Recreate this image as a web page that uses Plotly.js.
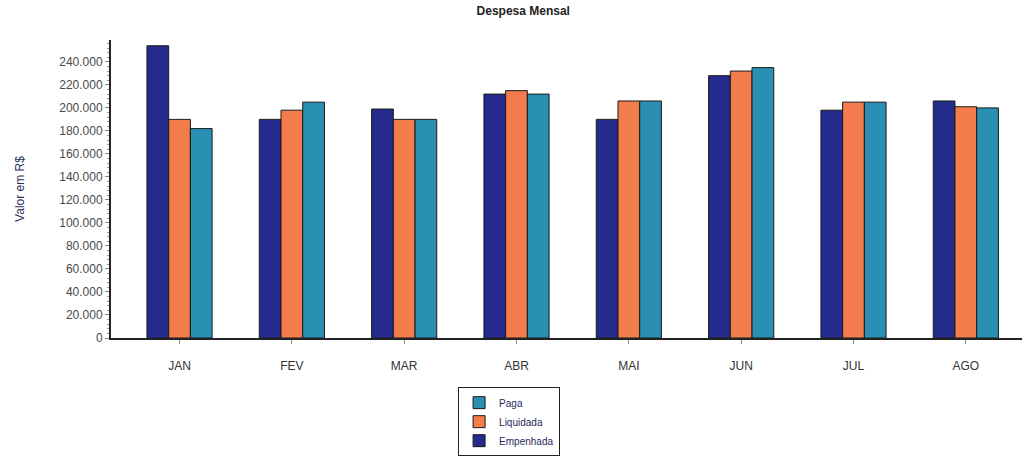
<!DOCTYPE html>
<html>
<head>
<meta charset="utf-8">
<script src="https://cdn.plot.ly/plotly-3.0.1.min.js"></script>
<style>html,body{margin:0;padding:0;background:#fff;}#chart{width:1024px;height:458px;}</style>
</head>
<body>
<div id="chart"></div>
<script>
var months = ["JAN", "FEV", "MAR", "ABR", "MAI", "JUN", "JUL", "AGO"];
var empenhada = [254000, 190000, 199000, 212000, 190000, 228000, 198000, 206000];
var liquidada = [190000, 198000, 190000, 215000, 206000, 232000, 205000, 201000];
var paga = [182000, 205000, 190000, 212000, 206000, 235000, 205000, 200000];
var yTicks = [0, 20000, 40000, 60000, 80000, 100000, 120000, 140000, 160000, 180000, 200000, 220000, 240000];
var yTickText = ["0", "20.000", "40.000", "60.000", "80.000", "100.000", "120.000", "140.000", "160.000", "180.000", "200.000", "220.000", "240.000"];

var lineStyle = {color: "#1a1a1a", width: 1};
var traces = [
  {type: "bar", name: "Empenhada", x: months, y: empenhada,
   marker: {color: "#252b8c", line: lineStyle}},
  {type: "bar", name: "Liquidada", x: months, y: liquidada,
   marker: {color: "#f27c4c", line: lineStyle}},
  {type: "bar", name: "Paga", x: months, y: paga,
   marker: {color: "#2990b4", line: lineStyle}}
];

var layout = {
  width: 1024, height: 458,
  paper_bgcolor: "#ffffff", plot_bgcolor: "#ffffff",
  margin: {l: 111, r: 2, t: 40, b: 109},
  font: {family: "Liberation Sans, Arial, sans-serif", size: 12, color: "#444"},
  title: {text: "<b>Despesa Mensal</b>", x: 0.511, xanchor: "center", y: 0.985, yanchor: "top",
          font: {family: "Liberation Sans Narrow, Liberation Sans, Arial, sans-serif", size: 12, color: "#222"}},
  barmode: "group",
  bargap: 0.42,
  bargroupgap: 0,
  showlegend: true,
  legend: {traceorder: "reversed", x: 0.381, xanchor: "left", y: -0.165, yanchor: "top",
           bordercolor: "#222", borderwidth: 1, bgcolor: "#fff",
           font: {size: 10, color: "#1f2a5a"}, itemwidth: 30, tracegroupgap: 0},
  xaxis: {
    type: "category", range: [-0.61, 7.5],
    showline: true, linecolor: "#222", linewidth: 2,
    ticks: "outside", ticklen: 4, tickcolor: "#888",
    ticklabelstandoff: 12,
    showgrid: false, zeroline: false,
    tickfont: {size: 12, color: "#333"}
  },
  yaxis: {
    range: [0, 259000],
    tickmode: "array", tickvals: yTicks, ticktext: yTickText,
    showline: true, linecolor: "#222", linewidth: 2,
    ticks: "outside", ticklen: 4, tickcolor: "#888",
    minor: {dtick: 4000, ticks: "outside", ticklen: 2, tickcolor: "#999", showgrid: false},
    showgrid: false, zeroline: false,
    tickfont: {size: 12, color: "#4a4a4a"},
    title: {text: "Valor em R$", font: {size: 12, color: "#2b2f55"}, standoff: 32}
  }
};

Plotly.newPlot("chart", traces, layout, {displayModeBar: false, staticPlot: true});
</script>
</body>
</html>
